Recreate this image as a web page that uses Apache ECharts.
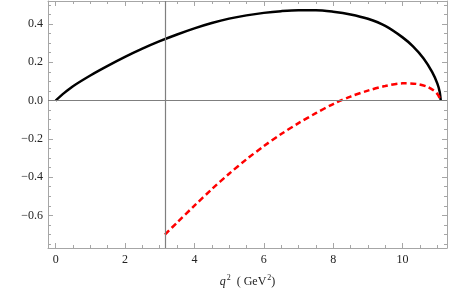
<!DOCTYPE html>
<html>
<head>
<meta charset="utf-8">
<script src="https://cdn.jsdelivr.net/npm/echarts@6/dist/echarts.min.js"></script>
<style>html,body{margin:0;padding:0;background:#fff}#c{width:450px;height:290px}</style>
</head>
<body>
<div id="c"></div>
<script>
// Data
const solidX = [0, 0.25, 0.5, 1, 1.5, 2, 2.5, 3, 3.5, 4, 4.5, 5, 5.5, 6, 6.5, 7, 7.5, 8, 8.5, 9, 9.5, 10, 10.3, 10.6, 10.85, 11.0, 11.07, 11.1];
const solidY = [0, 0.04, 0.075, 0.131, 0.181, 0.228, 0.271, 0.310, 0.345, 0.377, 0.405, 0.428, 0.445, 0.458, 0.467, 0.472, 0.472, 0.464, 0.450, 0.427, 0.39, 0.33, 0.283, 0.221, 0.15, 0.09, 0.045, 0];
const dashedX = [3.15, 3.5, 4, 4.5, 5, 5.5, 6, 6.5, 7, 7.5, 8, 8.5, 9, 9.5, 10, 10.4, 10.7, 10.9, 11.02, 11.1];
const dashedY = [-0.70, -0.637, -0.549, -0.463, -0.382, -0.307, -0.238, -0.175, -0.118, -0.066, -0.018, 0.021, 0.052, 0.076, 0.09, 0.087, 0.073, 0.052, 0.03, 0];
const vLineX = 3.15;
const xMajorTicks = [0, 2, 4, 6, 8, 10];
const xMinorTicks = [0.5, 1, 1.5, 2.5, 3, 3.5, 4.5, 5, 5.5, 6.5, 7, 7.5, 8.5, 9, 9.5, 10.5, 11];
const yMajorTicks = [-0.6, -0.4, -0.2, 0, 0.2, 0.4];
const yMinorTicks = [-0.75, -0.7, -0.65, -0.55, -0.5, -0.45, -0.35, -0.3, -0.25, -0.15, -0.1, -0.05, 0.05, 0.1, 0.15, 0.25, 0.3, 0.35, 0.45, 0.5];

const X_MIN = -0.22, X_MAX = 11.28, Y_MIN = -0.77, Y_MAX = 0.52;
const frameColor = '#a6a6a6';
const font = '"Liberation Serif", "DejaVu Serif", serif';

function pairs(xs, ys) { return xs.map((x, i) => [x, ys[i]]); }
function yFmt(v) {
  const r = Math.round(v * 10) / 10;
  const s = Math.abs(r).toFixed(1);
  return r < 0 ? '\u2212' + s : s;
}

function xAx(grid, pos, ticks, len, labels, extra) {
  return Object.assign({
    type: 'value', gridIndex: grid, position: pos, min: X_MIN, max: X_MAX,
    axisLine: { show: labels !== null, onZero: false, lineStyle: { color: frameColor, width: 1 } },
    axisTick: { show: true, inside: true, length: len, customValues: ticks, lineStyle: { color: frameColor, width: 1 } },
    axisLabel: labels ? { show: true, customValues: labels, margin: 6, color: '#222', fontFamily: font, fontSize: 12, formatter: v => String(Math.round(v)) } : { show: false },
    splitLine: { show: false }
  }, extra || {});
}
function yAx(grid, pos, ticks, len, labels) {
  return {
    type: 'value', gridIndex: grid, position: pos, min: Y_MIN, max: Y_MAX,
    axisLine: { show: labels !== null, onZero: false, lineStyle: { color: frameColor, width: 1 } },
    axisTick: { show: true, inside: true, length: len, customValues: ticks, lineStyle: { color: frameColor, width: 1 } },
    axisLabel: labels ? { show: true, customValues: labels, margin: 5, color: '#222', fontFamily: font, fontSize: 12, formatter: yFmt } : { show: false },
    splitLine: { show: false }
  };
}

const gridRect = { left: 48, right: 3, top: 1, bottom: 42, containLabel: false, outerBoundsMode: 'none' };
const chart = echarts.init(document.getElementById('c'), null, { renderer: 'canvas' });
chart.setOption({
  animation: false,
  backgroundColor: '#fff',
  grid: [Object.assign({}, gridRect), Object.assign({}, gridRect)],
  xAxis: [
    xAx(0, 'bottom', xMajorTicks, 5, xMajorTicks, {
      name: '{q|q}{s|2}  ( GeV{s|2})',
      nameLocation: 'middle', nameGap: 26,
      nameTextStyle: {
        fontFamily: font, fontSize: 12, color: '#222',
        rich: {
          q: { fontFamily: font, fontSize: 12, fontStyle: 'italic', color: '#222' },
          s: { fontFamily: font, fontSize: 8, color: '#222', padding: [0, 0, 7, 1] }
        }
      }
    }),
    xAx(0, 'top', xMajorTicks, 5, false),
    xAx(1, 'bottom', xMinorTicks, 3, null),
    xAx(1, 'top', xMinorTicks, 3, null)
  ],
  yAxis: [
    yAx(0, 'left', yMajorTicks, 5, yMajorTicks),
    yAx(0, 'right', yMajorTicks, 5, false),
    yAx(1, 'left', yMinorTicks, 3, null),
    yAx(1, 'right', yMinorTicks, 3, null)
  ],
  series: [
    {
      type: 'line', xAxisIndex: 0, yAxisIndex: 0, data: [], silent: true,
      markLine: {
        symbol: 'none', silent: true, label: { show: false },
        lineStyle: { color: '#7f7f7f', width: 1.2, type: 'solid' },
        data: [{ yAxis: 0 }, { xAxis: vLineX }]
      }
    },
    {
      type: 'line', xAxisIndex: 0, yAxisIndex: 0, data: pairs(solidX, solidY),
      smooth: 0.3, showSymbol: false, lineStyle: { color: '#000', width: 2.5 }
    },
    {
      type: 'line', xAxisIndex: 0, yAxisIndex: 0, data: pairs(dashedX, dashedY),
      smooth: 0.3, showSymbol: false, lineStyle: { color: '#ff0000', width: 2.5, type: [6, 3.5] }
    }
  ]
});
</script>
</body>
</html>
